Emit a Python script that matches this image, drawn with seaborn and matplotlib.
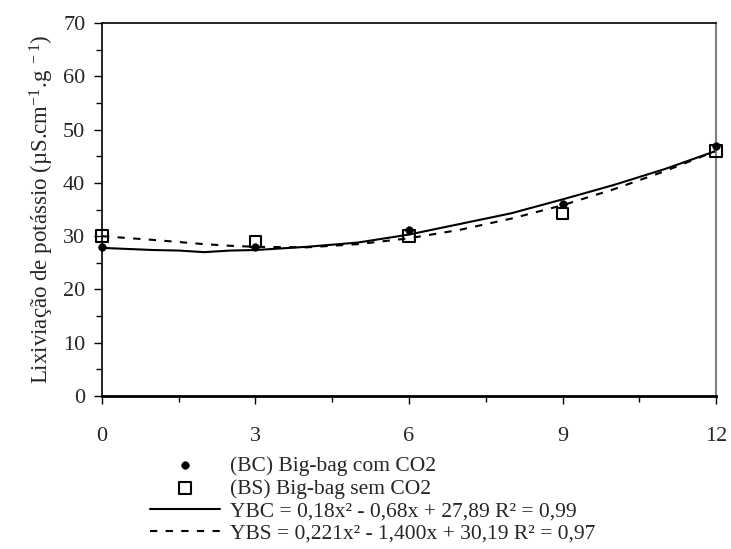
import matplotlib
matplotlib.use("Agg")
import matplotlib.pyplot as plt
import seaborn as sns
import pandas as pd
from matplotlib.ticker import MultipleLocator

# Observed points
days = [0, 3, 6, 9, 12]
bc_values = [28.0, 28.0, 31.2, 36.0, 47.0]
bs_values = [30.0, 29.0, 30.0, 34.3, 46.0]

# Fitted curves
curve_x = [0, 1, 1.5, 2, 2.5, 3, 4, 5, 6, 7, 8, 9, 10, 11, 12]
ybc_curve = [27.8, 27.4, 27.3, 27.0, 27.3, 27.4, 28.0, 28.8, 30.3, 32.3, 34.3, 36.9, 39.6, 42.6, 46.0]
ybs_curve = [30.0, 29.3, 28.9, 28.5, 28.2, 28.0, 27.9, 28.5, 29.6, 31.2, 33.3, 35.8, 38.8, 42.2, 46.0]

labels = ["(BC) Big-bag com CO2", "(BS) Big-bag sem CO2",
          "YBC = 0,18x² - 0,68x + 27,89 R² = 0,99",
          "YBS = 0,221x² - 1,400x + 30,19 R² = 0,97"]
ylabel = r"Lixiviação de potássio (µS.cm$^{\mathregular{-1}}$.g$^{\mathregular{\ -1}}$)"

sns.set_theme(style="ticks")
plt.rcParams["font.family"] = ["Liberation Serif", "DejaVu Serif"]
plt.rcParams["mathtext.fontset"] = "custom"
plt.rcParams["mathtext.rm"] = "Liberation Serif"
plt.rcParams["mathtext.it"] = "Liberation Serif"

fig = plt.figure(figsize=(7.31, 5.49), dpi=100)
ax = fig.add_axes([0.1395, 0.2787, 0.8400, 0.6793])

df_c = pd.DataFrame({"x": curve_x, "ybc": ybc_curve, "ybs": ybs_curve})
df_p = pd.DataFrame({"x": days, "bc": bc_values, "bs": bs_values})

sns.lineplot(data=df_c, x="x", y="ybc", ax=ax, color="black", lw=1.5, label=labels[2])
sns.lineplot(data=df_c, x="x", y="ybs", ax=ax, color="black", lw=1.5, label=labels[3])
ax.lines[-1].set_dashes([3.5, 4])
sns.scatterplot(data=df_p, x="x", y="bc", ax=ax, color="black", marker="o", s=30,
                edgecolor="black", label=labels[0], zorder=5, clip_on=False)
sns.scatterplot(data=df_p, x="x", y="bs", ax=ax, marker="s", s=68, facecolor="none",
                edgecolor="black", linewidth=1.5, label=labels[1], zorder=6, clip_on=False)

ax.set_xlim(0, 12)
ax.set_ylim(0, 70)
ax.xaxis.set_major_locator(MultipleLocator(3))
ax.xaxis.set_minor_locator(MultipleLocator(1.5))
ax.yaxis.set_major_locator(MultipleLocator(10))
ax.yaxis.set_minor_locator(MultipleLocator(5))
ax.tick_params(axis="both", which="major", direction="out", length=6, width=1,
               labelsize=16, color="black", pad=6)
ax.tick_params(axis="both", which="minor", direction="out", length=4, width=1, color="black")
ax.tick_params(axis="x", which="major", pad=16.5)
ax.set_xlabel("")
ax.set_ylabel(ylabel, fontsize=16.5, labelpad=5)

for side in ["left", "bottom", "top"]:
    ax.spines[side].set_color("black")
    ax.spines[side].set_linewidth(1.2)
ax.spines["bottom"].set_linewidth(2)
ax.spines["right"].set_color("#808080")
ax.spines["right"].set_linewidth(1.5)
for s in ax.spines.values():
    s.set_visible(True)
ax.set_facecolor("white")

handles, labs = ax.get_legend_handles_labels()
order = [labs.index(l) for l in labels]
ax.get_legend().remove()
fig.legend([handles[i] for i in order], [labs[i] for i in order],
           loc="upper left", bbox_to_anchor=(150 / 731, 1 - 456 / 549),
           frameon=False, fontsize=15.5, handlelength=3.25, handletextpad=0.45,
           labelspacing=0.12, borderpad=0, borderaxespad=0)

fig.savefig("out.png", dpi=100, facecolor="white")
